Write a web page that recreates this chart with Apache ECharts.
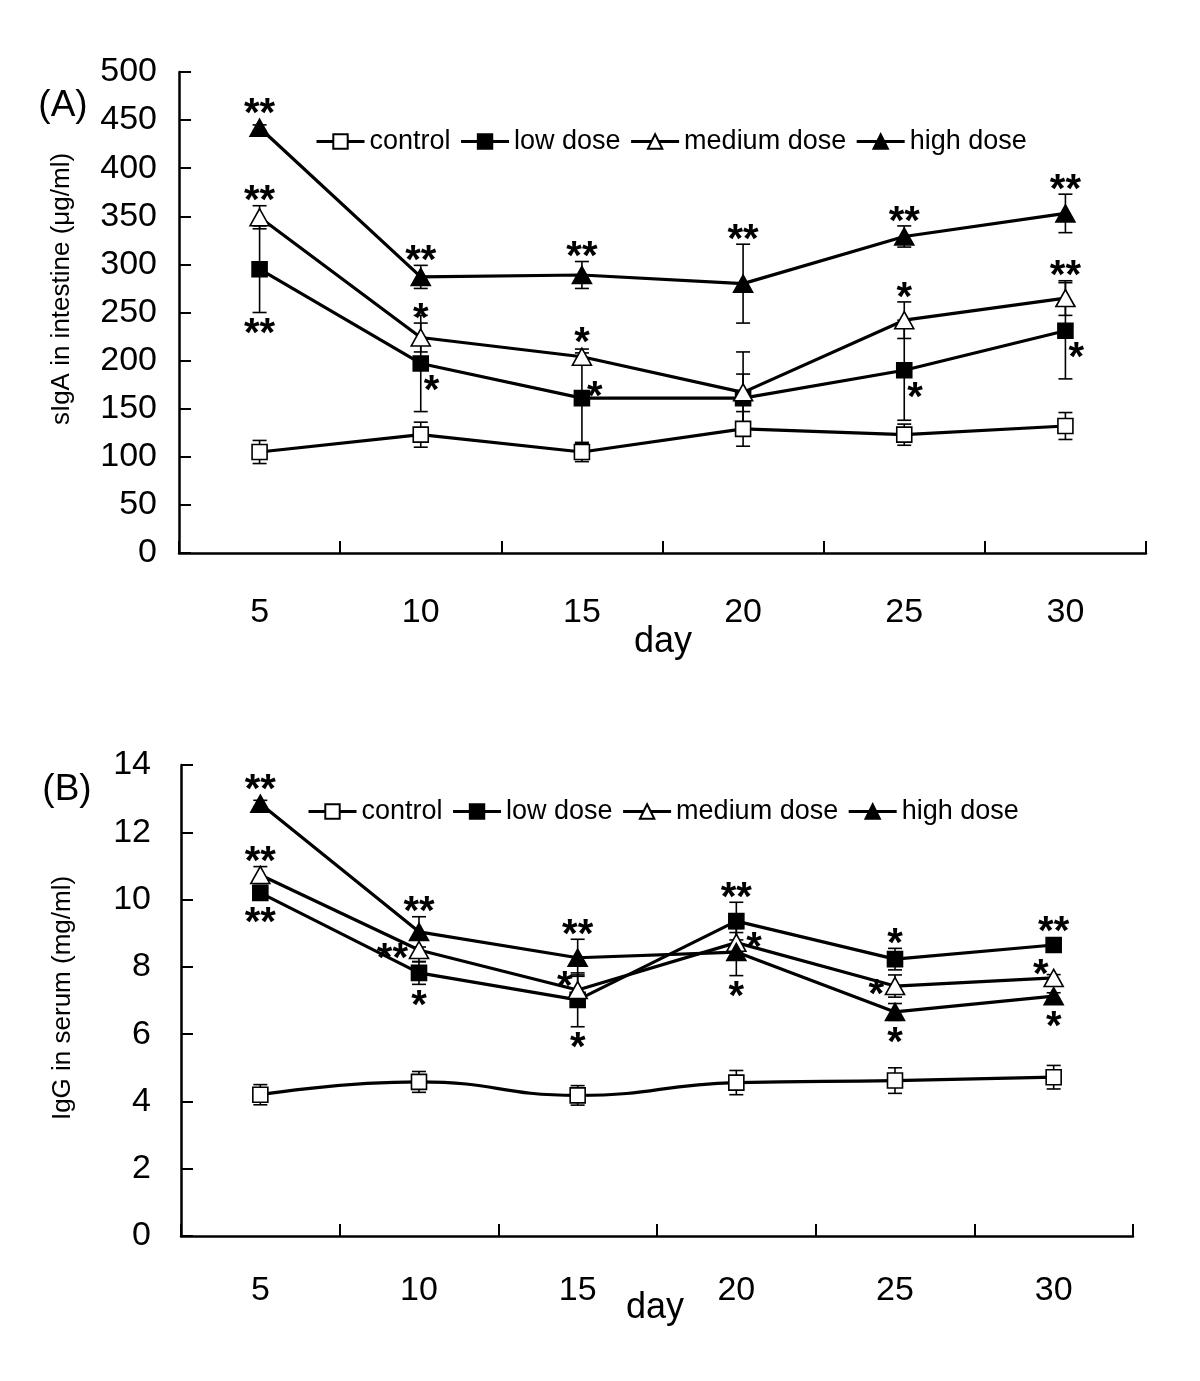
<!DOCTYPE html>
<html><head><meta charset="utf-8">
<script src="https://cdn.jsdelivr.net/npm/echarts@6/dist/echarts.min.js"></script>
<style>html,body{margin:0;padding:0;background:#fff}#c{width:1200px;height:1381px}</style>
</head><body><div id="c"></div><script>
// ---------- data ----------
const days = ['5', '10', '15', '20', '25', '30'];
const seriesNames = ['control', 'low dose', 'medium dose', 'high dose'];

// (A) sIgA in intestine (ug/ml)
const sIgA_control = [105, 123, 105, 129, 123, 132];
const sIgA_control_sd = [12, 13, 10, 18, 11, 14];
const sIgA_low = [295, 197, 161, 161, 190, 231];
const sIgA_low_sd = [45, 50, 47, 25, 52, 50];
const sIgA_medium = [349, 224, 204, 167, 242, 265];
const sIgA_medium_sd = [12, 15, 8, 42, 19, 18];
const sIgA_high = [442, 287, 289, 280, 329, 353];
const sIgA_high_sd = [3, 12, 14, 41, 11, 20];

// (B) IgG in serum (mg/ml)
const IgG_control = [4.2, 4.58, 4.18, 4.56, 4.62, 4.72];
const IgG_control_sd = [0.3, 0.31, 0.29, 0.36, 0.38, 0.35];
const IgG_low = [10.2, 7.82, 7.02, 9.36, 8.23, 8.65];
const IgG_low_sd = [0.15, 0.34, 0.8, 0.56, 0.32, 0.1];
const IgG_medium = [10.73, 8.5, 7.31, 8.72, 7.43, 7.67];
const IgG_medium_sd = [0.25, 0.35, 0.45, 0.3, 0.33, 0.1];
const IgG_high = [12.85, 9.04, 8.27, 8.44, 6.66, 7.13];
const IgG_high_sd = [0.1, 0.45, 0.55, 0.7, 0.25, 0.1];

// significance marks: [group, day index, text, side]
const sigA = [
  ['high', 0, '**', 'top'], ['medium', 0, '**', 'top'], ['low', 0, '**', 'bottom'],
  ['high', 1, '**', 'top'], ['medium', 1, '*', 'top'], ['low', 1, '*', 'rightBelow'],
  ['high', 2, '**', 'top'], ['medium', 2, '*', 'top'], ['low', 2, '*', 'rightAbove'],
  ['high', 3, '**', 'top'],
  ['high', 4, '**', 'top'], ['medium', 4, '*', 'top'], ['low', 4, '*', 'rightBelow'],
  ['high', 5, '**', 'top'], ['medium', 5, '**', 'top'], ['low', 5, '*', 'rightBelow']
];
const sigB = [
  ['high', 0, '**', 'top'], ['medium', 0, '**', 'top'], ['low', 0, '**', 'bottom'],
  ['high', 1, '**', 'top'], ['medium', 1, '**', 'left'], ['low', 1, '*', 'bottom'],
  ['high', 2, '**', 'top'], ['medium', 2, '*', 'leftAbove'], ['low', 2, '*', 'bottom'],
  ['low', 3, '**', 'top'], ['medium', 3, '*', 'right'], ['high', 3, '*', 'bottom'],
  ['low', 4, '*', 'top'], ['medium', 4, '*', 'left'], ['high', 4, '*', 'bottom'],
  ['low', 5, '**', 'top'], ['medium', 5, '*', 'leftAbove'], ['high', 5, '*', 'bottom']
];

// ---------- build ----------
const FONT = '"Liberation Sans", Arial, Helvetica, sans-serif';
const groups = ['control', 'low', 'medium', 'high'];
const nameOf = { control: seriesNames[0], low: seriesNames[1], medium: seriesNames[2], high: seriesNames[3] };
const symOf = { control: 'rect', low: 'rect', medium: 'triangle', high: 'triangle' };
const fillOf = { control: '#ffffff', low: '#000000', medium: '#ffffff', high: '#000000' };

const panels = [
  { vals: { control: sIgA_control, low: sIgA_low, medium: sIgA_medium, high: sIgA_high },
    sds: { control: sIgA_control_sd, low: sIgA_low_sd, medium: sIgA_medium_sd, high: sIgA_high_sd },
    sig: sigA, smoothControl: false },
  { vals: { control: IgG_control, low: IgG_low, medium: IgG_medium, high: IgG_high },
    sds: { control: IgG_control_sd, low: IgG_low_sd, medium: IgG_medium_sd, high: IgG_high_sd },
    sig: sigB, smoothControl: true }
];

function errRender(params, api) {
  const x = api.value(0), v = api.value(1), sd = api.value(2);
  const t = api.coord([x, v + sd]);
  const b = api.coord([x, v - sd]);
  const hw = 7;
  const st = { stroke: '#000', lineWidth: 1.6 };
  return { type: 'group', children: [
    { type: 'line', shape: { x1: t[0], y1: t[1], x2: b[0], y2: b[1] }, style: st },
    { type: 'line', shape: { x1: t[0] - hw, y1: t[1], x2: t[0] + hw, y2: t[1] }, style: st },
    { type: 'line', shape: { x1: b[0] - hw, y1: b[1], x2: b[0] + hw, y2: b[1] }, style: st }
  ] };
}

function starRender(list) {
  return function (params, api) {
    const s = list[params.dataIndex];
    const side = s[3];
    const x = api.value(0), v = api.value(1), sd = api.value(2);
    const p = api.coord([x, v]);
    const t = api.coord([x, v + sd]);
    const b = api.coord([x, v - sd]);
    const fs = 40, sym = 9;
    let tx = p[0], ty = p[1], align = 'center';
    if (side === 'top') { ty = Math.min(t[1], p[1] - sym) - 13; }
    else if (side === 'bottom') { ty = Math.max(b[1], p[1] + sym) + 13; }
    else if (side === 'left') { tx = p[0] - 11; ty = p[1]; align = 'right'; }
    else if (side === 'leftAbove') { tx = p[0] - 5; ty = p[1] - 12; align = 'right'; }
    else if (side === 'right') { tx = p[0] + 10; ty = p[1] - 3; align = 'left'; }
    else if (side === 'rightBelow') { tx = p[0] + 3; ty = p[1] + 19; align = 'left'; }
    else if (side === 'rightAbove') { tx = p[0] + 5; ty = p[1] - 10; align = 'left'; }
    return { type: 'text', style: {
      text: s[2], x: tx, y: ty + 0.24 * fs, fill: '#000',
      font: 'bold ' + fs + 'px ' + FONT,
      align: align, verticalAlign: 'middle', textAlign: align, textVerticalAlign: 'middle'
    } };
  };
}

const series = [];
panels.forEach(function (pn, gi) {
  const errData = [];
  groups.forEach(function (g) {
    pn.vals[g].forEach(function (v, i) { errData.push([i, v, pn.sds[g][i]]); });
  });
  series.push({ type: 'custom', xAxisIndex: gi, yAxisIndex: gi, data: errData,
    renderItem: errRender, encode: { x: 0, y: 1 }, z: 1, silent: true, animation: false });
  groups.forEach(function (g) {
    series.push({
      type: 'line', name: nameOf[g], xAxisIndex: gi, yAxisIndex: gi,
      data: pn.vals[g], symbol: symOf[g],
      symbolSize: symOf[g] === 'rect' ? 15 : [19, 17],
      showSymbol: true, smooth: (g === 'control' && pn.smoothControl) ? 0.5 : false,
      itemStyle: { color: fillOf[g], borderColor: '#000', borderWidth: 1.6 },
      lineStyle: { color: '#000', width: 3.2 },
      emphasis: { disabled: true }, z: 3, animation: false
    });
  });
  const starData = pn.sig.map(function (s) {
    return [s[1], pn.vals[s[0]][s[1]], pn.sds[s[0]][s[1]]];
  });
  series.push({ type: 'custom', xAxisIndex: gi, yAxisIndex: gi, data: starData,
    renderItem: starRender(pn.sig), encode: { x: 0, y: 1 }, z: 5, silent: true, animation: false });
});

function xAxisCfg(gi, margin) {
  return {
    type: 'category', gridIndex: gi, data: days, boundaryGap: true,
    axisLine: { show: true, lineStyle: { color: '#000', width: 2.5 } },
    axisTick: { show: true, inside: true, length: 12, lineStyle: { color: '#000', width: 2 } },
    axisLabel: { color: '#000', fontSize: 34, fontFamily: FONT, margin: margin },
    splitLine: { show: false }
  };
}
function yAxisCfg(gi, max, interval, margin) {
  return {
    type: 'value', gridIndex: gi, min: 0, max: max, interval: interval,
    axisLine: { show: true, lineStyle: { color: '#000', width: 2.5 } },
    axisTick: { show: true, inside: true, length: 12, lineStyle: { color: '#000', width: 2 } },
    axisLabel: { color: '#000', fontSize: 34, fontFamily: FONT, margin: margin },
    splitLine: { show: false }
  };
}

function legendCfg(left, top) {
  return {
    left: left, top: top, orient: 'horizontal', data: seriesNames.slice(), padding: 0,
    itemWidth: 48, itemHeight: 18, itemGap: 9, selectedMode: false,
    lineStyle: { width: 3, color: '#000' },
    textStyle: { color: '#000', fontSize: 27, fontFamily: FONT }
  };
}

function txt(text, x, y, size, rot) {
  return { type: 'text', x: x, y: y, rotation: rot || 0, silent: true,
    style: { text: text, fill: '#000', font: size + 'px ' + FONT,
      align: 'center', verticalAlign: 'middle', textAlign: 'center', textVerticalAlign: 'middle' } };
}

const option = {
  backgroundColor: '#ffffff',
  animation: false,
  grid: [
    { left: 179, top: 72, width: 967, height: 481, containLabel: false, outerBoundsMode: 'none' },
    { left: 181, top: 765, width: 952, height: 471, containLabel: false, outerBoundsMode: 'none' }
  ],
  xAxis: [xAxisCfg(0, 43), xAxisCfg(1, 38)],
  yAxis: [yAxisCfg(0, 500, 50, 22), yAxisCfg(1, 14, 2, 30)],
  legend: [legendCfg(315, 128), legendCfg(307, 798)],
  graphic: [
    txt('(A)', 63, 106, 37),
    txt('(B)', 67, 790, 37),
    txt('sIgA in intestine (μg/ml)', 62, 289, 26, Math.PI / 2),
    txt('IgG in serum (mg/ml)', 63, 998, 26, Math.PI / 2),
    txt('day', 663, 642, 36),
    txt('day', 655, 1308, 36)
  ],
  series: series
};

const chart = echarts.init(document.getElementById('c'), null, { renderer: 'canvas' });
chart.setOption(option);
</script></body></html>
